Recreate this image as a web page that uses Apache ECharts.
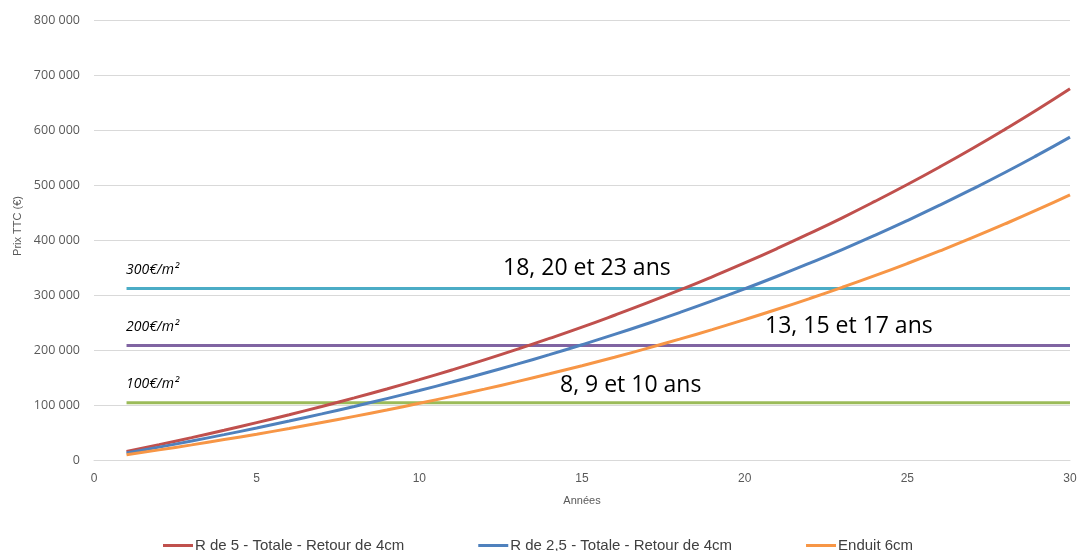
<!DOCTYPE html>
<html><head><meta charset="utf-8">
<script src="https://cdn.jsdelivr.net/npm/echarts@6/dist/echarts.min.js"></script>
<style>html,body{margin:0;padding:0;background:#fff}#c{width:1080px;height:551px}</style>
</head><body><div id="c"></div>
<script>
const years = [1,2,3,4,5,6,7,8,9,10,11,12,13,14,15,16,17,18,19,20,21,22,23,24,25,26,27,28,29,30];
const redR5 = [15600,27900,40700,54000,67900,82300,97300,112900,129200,146100,163700,182000,201100,221000,241600,263200,285500,308800,333100,358300,384600,412000,440400,470100,500900,533000,566400,601200,637300,675000];
const blueR25 = [12700,23400,34500,46100,58200,70800,83800,97400,111600,126300,141700,157700,174300,191600,209600,228300,247800,268100,289200,311200,334100,358000,382700,408500,435400,463400,492500,522700,554300,587100];
const orangeEnduit = [9600,18400,27500,37100,47000,57300,68100,79300,90900,103100,115700,128800,142500,156700,171500,186900,203000,219700,237100,255200,274000,293600,314000,335200,357300,380300,404200,429200,455100,482100];
const seuil100 = 104000, seuil200 = 208000, seuil300 = 312000;
const seriesNames = ['R de 5 - Totale - Retour de 4cm','R de 2,5 - Totale - Retour de 4cm','Enduit 6cm'];
const seuilLabels = ['100€/m²','200€/m²','300€/m²'];
const annotations = ['8, 9 et 10 ans','13, 15 et 17 ans','18, 20 et 23 ans'];

const pts = arr => years.map((y,i)=>[y,arr[i]]);
const flat = v => [[years[0],v],[years[years.length-1],v]];
const chart = echarts.init(document.getElementById('c'));
const narrow = 'Liberation Sans Narrow, Liberation Sans, sans-serif';
const lineS = (name,data,color,smooth)=>({name,type:'line',data,smooth,showSymbol:false,symbol:'none',
  lineStyle:{width:3,color},itemStyle:{color},emphasis:{disabled:true},silent:true,animation:false});
chart.setOption({
  animation:false,
  grid:{left:94,right:10,top:20,bottom:91},
  xAxis:{type:'value',min:0,max:30,interval:5,name:'Années',nameLocation:'middle',nameGap:35,
    nameTextStyle:{color:'#595959',fontSize:11,fontFamily:narrow},
    axisLine:{show:true,lineStyle:{color:'#d9d9d9'}},axisTick:{show:false},splitLine:{show:false},
    axisLabel:{color:'#595959',fontSize:12,fontFamily:narrow,margin:13}},
  yAxis:{type:'value',min:0,max:800000,interval:100000,name:'Prix TTC (€)',nameLocation:'middle',nameGap:70,
    nameTextStyle:{color:'#595959',fontSize:11,fontFamily:narrow,padding:[0,0,0,28]},
    axisLine:{show:false},axisTick:{show:false},splitLine:{lineStyle:{color:'#d9d9d9'}},
    axisLabel:{color:'#595959',fontSize:12.5,fontFamily:'Open Sans, sans-serif',margin:14,
      formatter:v=>String(v).replace(/\B(?=(\d{3})+(?!\d))/g,' ')}},
  legend:{top:533,left:158,itemGap:74,itemWidth:30,itemHeight:3,icon:'rect',
    data:seriesNames,textStyle:{color:'#404040',fontSize:15,fontFamily:narrow,padding:[0,0,0,-3]}},
  series:[
    lineS('s300',flat(seuil300),'#4BACC6',false),
    lineS('s200',flat(seuil200),'#8064A2',false),
    lineS('s100',flat(seuil100),'#9BBB59',false),
    lineS(seriesNames[0],pts(redR5),'#C0504D',true),
    lineS(seriesNames[1],pts(blueR25),'#4F81BD',true),
    lineS(seriesNames[2],pts(orangeEnduit),'#F79646',true)
  ],
  graphic:[
    {type:'text',left:126,top:263,style:{text:seuilLabels[2],font:'italic 14px Open Sans, sans-serif',fill:'#000'}},
    {type:'text',left:126,top:320,style:{text:seuilLabels[1],font:'italic 14px Open Sans, sans-serif',fill:'#000'}},
    {type:'text',left:126,top:377,style:{text:seuilLabels[0],font:'italic 14px Open Sans, sans-serif',fill:'#000'}},
    {type:'text',left:503,top:257,style:{text:annotations[2],font:'23px Open Sans, sans-serif',fill:'#000'}},
    {type:'text',left:765,top:315,style:{text:annotations[1],font:'23px Open Sans, sans-serif',fill:'#000'}},
    {type:'text',left:560,top:374,style:{text:annotations[0],font:'23px Open Sans, sans-serif',fill:'#000'}}
  ]
});
</script></body></html>
